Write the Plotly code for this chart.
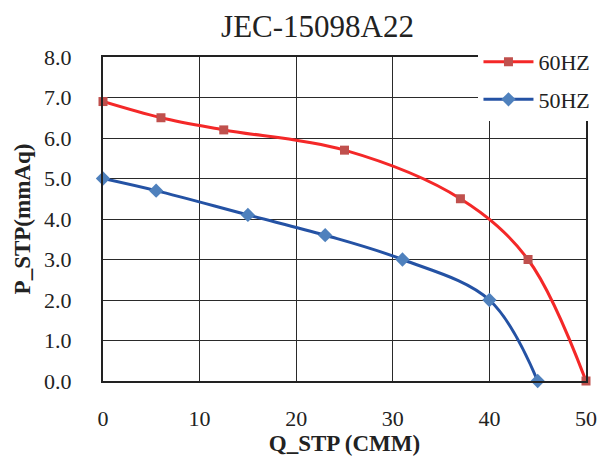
import plotly.graph_objects as go

# Data
q_60 = [0, 6, 12.5, 25, 37, 44, 50]
p_60 = [6.9, 6.5, 6.2, 5.7, 4.5, 3.0, 0.0]
q_50 = [0, 5.5, 15, 23, 31, 40, 45]
p_50 = [5.0, 4.7, 4.1, 3.6, 3.0, 2.0, 0.0]
x_ticks = [0, 10, 20, 30, 40, 50]
y_ticks = [0, 1, 2, 3, 4, 5, 6, 7, 8]

FONT = "Liberation Serif, Times New Roman, serif"

fig = go.Figure()
fig.add_trace(go.Scatter(
    x=q_60, y=p_60, name="60HZ", mode="lines+markers", legendgroup="a",
    line=dict(color="#F42828", width=3, shape="spline", smoothing=1.0),
    marker=dict(symbol="square", size=9, color="#C0504D"),
    cliponaxis=False,
))
fig.add_trace(go.Scatter(
    x=q_50, y=p_50, name="50HZ", mode="lines+markers", legendgroup="b",
    line=dict(color="#2452A4", width=3, shape="spline", smoothing=1.0),
    marker=dict(symbol="diamond", size=11, color="#4F81BD"),
    cliponaxis=False,
))

# page body adds an 8px offset, so margins are shifted to compensate
fig.update_layout(
    width=611, height=464,
    margin=dict(l=95, r=33, t=49, b=91, autoexpand=False),
    paper_bgcolor="white", plot_bgcolor="white",
    font=dict(family=FONT, color="#222222", size=22),
    title=dict(text="JEC-15098A22", x=0.5066, xanchor="center", y=0.961, yanchor="middle",
               font=dict(family=FONT, size=31, color="#222222")),
    showlegend=True,
    legend=dict(xref="container", yref="container", x=0.77, y=0.929,
                xanchor="left", yanchor="top", tracegroupgap=6, itemwidth=50,
                bgcolor="white", font=dict(family=FONT, size=22, color="#222222"),
                borderwidth=0),
)
fig.update_xaxes(
    range=[0, 50], tickvals=x_ticks, ticktext=[str(v) for v in x_ticks],
    showgrid=True, gridcolor="#2a2a2a", gridwidth=1, automargin=False,
    showline=True, linecolor="#222222", linewidth=2, mirror=True,
    zeroline=False, ticks="", ticklabelstandoff=17,
    tickfont=dict(family=FONT, size=22, color="#222222"),
    title=dict(text="<b>Q_STP (CMM)</b>", standoff=4,
               font=dict(family=FONT, size=23, color="#222222")),
)
fig.update_yaxes(
    range=[0, 8], tickvals=y_ticks, ticktext=[f"{v:.1f}" for v in y_ticks],
    showgrid=True, gridcolor="#2a2a2a", gridwidth=1, automargin=False,
    showline=True, linecolor="#222222", linewidth=2, mirror=True,
    zeroline=False, ticks="", ticklabelstandoff=25,
    tickfont=dict(family=FONT, size=22, color="#222222"),
    title=dict(text="<b>P_STP(mmAq)</b>", standoff=7,
               font=dict(family=FONT, size=23, color="#222222")),
)

fig.write_html("out.html")
